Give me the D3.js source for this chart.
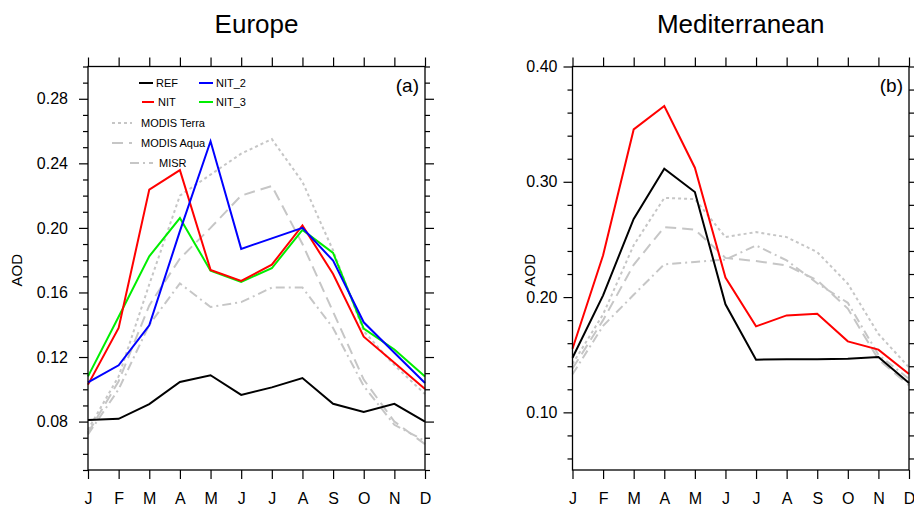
<!DOCTYPE html>
<html><head><meta charset="utf-8">
<script src="https://cdn.jsdelivr.net/npm/d3@7"></script>
<style>
body{margin:0;background:#fff;}
svg{display:block;font-family:"Liberation Sans",Arial,Helvetica,sans-serif;}
</style></head>
<body><svg id="c" width="914" height="506"></svg>
<script>
const months = ["J","F","M","A","M","J","J","A","S","O","N","D"];

// Europe (a)
const eurREF   = [0.081,0.0817,0.0908,0.1045,0.1087,0.0965,0.1012,0.107,0.091,0.0859,0.091,0.080];
const eurNIT   = [0.1029,0.138,0.2237,0.2358,0.174,0.1672,0.1772,0.2015,0.1714,0.1326,0.1164,0.1002];
const eurNIT2  = [0.1043,0.1149,0.1396,0.198,0.2537,0.187,0.1935,0.200,0.1797,0.1415,0.1226,0.1039];
const eurNIT3  = [0.108,0.145,0.1824,0.2061,0.1735,0.1666,0.175,0.1988,0.1845,0.1376,0.1247,0.108];
const eurTerra = [0.075,0.108,0.165,0.220,0.233,0.246,0.255,0.2285,0.186,0.136,0.115,0.097];
const eurAqua  = [0.073,0.105,0.152,0.181,0.200,0.220,0.226,0.190,0.148,0.106,0.080,0.066];
const eurMISR  = [0.072,0.100,0.140,0.1656,0.151,0.154,0.163,0.163,0.138,0.102,0.078,0.068];

// Mediterranean (b)
const medREF   = [0.1474,0.2015,0.2678,0.3114,0.2911,0.1937,0.1457,0.146,0.146,0.1464,0.148,0.1254];
const medNIT   = [0.1552,0.2362,0.3454,0.3657,0.3122,0.2170,0.1746,0.1841,0.1856,0.1616,0.1544,0.1333];
const medTerra = [0.142,0.185,0.245,0.2860,0.2850,0.252,0.2564,0.252,0.239,0.2116,0.168,0.139];
const medAqua  = [0.138,0.180,0.228,0.2607,0.2585,0.2340,0.2312,0.2275,0.2145,0.1900,0.146,0.1234];
const medMISR  = [0.133,0.175,0.202,0.2284,0.2305,0.2325,0.2448,0.2318,0.212,0.1950,0.150,0.129];

const eurTicks = [0.08,0.12,0.16,0.20,0.24,0.28];
const medTicks = [0.10,0.20,0.30,0.40];

const GRAY = "#c6c6c6";
const styles = {
  REF:{color:"#000",dash:null},
  NIT:{color:"#ff0000",dash:null},
  NIT_2:{color:"#0000ff",dash:null},
  NIT_3:{color:"#00ee00",dash:null},
  "MODIS Terra":{color:GRAY,dash:"3,3"},
  "MODIS Aqua":{color:GRAY,dash:"11,6"},
  "MISR":{color:GRAY,dash:"9,4,2,4"}
};

const svg = d3.select("#c");

function panel(opt){
  const g = svg.append("g");
  const x = d3.scalePoint().domain(d3.range(12)).range([opt.x0,opt.x1]);
  const y = d3.scaleLinear().domain(opt.ydom).range([opt.y1,opt.y0]);
  const line = d3.line().x((d,i)=>x(i)).y(d=>y(d));
  opt.series.forEach(s=>{
    const st = styles[s.name];
    g.append("path").datum(s.values).attr("d",line)
      .attr("fill","none").attr("stroke",st.color).attr("stroke-width",2)
      .attr("stroke-dasharray",st.dash).attr("stroke-linejoin","miter");
  });
  g.append("rect").attr("x",opt.x0).attr("y",opt.y0).attr("width",opt.x1-opt.x0).attr("height",opt.y1-opt.y0)
   .attr("fill","none").attr("stroke","#000").attr("stroke-width",1.3);
  const minor = d3.range(Math.round(opt.ydom[0]/opt.minorStep), Math.round(opt.ydom[1]/opt.minorStep)+1).map(k=>+(k*opt.minorStep).toFixed(4));
  const minorOnly = minor.filter(v=>!opt.yticks.some(t=>Math.abs(t-v)<1e-6));
  const axL = d3.axisLeft(y).tickValues(opt.yticks).tickSize(9).tickPadding(6).tickFormat(d3.format(".2f"));
  const axLm = d3.axisLeft(y).tickValues(minorOnly).tickSize(5).tickFormat("");
  const axR = d3.axisRight(y).tickValues(opt.yticks).tickSize(9).tickFormat("");
  const axRm = d3.axisRight(y).tickValues(minorOnly).tickSize(5).tickFormat("");
  const axB = d3.axisBottom(x).tickSize(9).tickPadding(14).tickFormat(i=>months[i]);
  const axT = d3.axisTop(x).tickSize(9).tickFormat("");
  const put=(ax,tx,ty)=>{const a=g.append("g").attr("transform",`translate(${tx},${ty})`).call(ax);
    a.select(".domain").remove(); a.selectAll("line").attr("stroke","#000").attr("stroke-width",1.2); return a;};
  const l = put(axL,opt.x0,0); put(axLm,opt.x0,0); put(axR,opt.x1,0); put(axRm,opt.x1,0);
  const b = put(axB,0,opt.y1); put(axT,0,opt.y0);
  l.selectAll("text").attr("font-size",16).attr("fill","#000").attr("font-family","Liberation Sans, Arial, sans-serif").attr("dx",opt.labDx||0);
  b.selectAll("text").attr("font-size",16).attr("fill","#000").attr("font-family","Liberation Sans, Arial, sans-serif");
  g.append("text").attr("transform",`translate(${opt.ytx},${(opt.y0+opt.y1)/2+2}) rotate(-90)`)
   .attr("text-anchor","middle").attr("font-size",15).text("AOD");
  g.append("text").attr("x",(opt.x0+opt.x1)/2).attr("y",33).attr("text-anchor","middle")
   .attr("font-size",26).text(opt.title);
  g.append("text").attr("x",opt.x1-6).attr("y",92).attr("text-anchor","end").attr("font-size",19).text(opt.tag);
  return {g,x,y};
}

const P1 = panel({x0:88,x1:425,y0:66.5,y1:470,ydom:[0.05,0.30],yticks:eurTicks,minorStep:0.01,
  title:"Europe",tag:"(a)",ytx:22,labDx:-5,
  series:[{name:"MODIS Terra",values:eurTerra},{name:"MODIS Aqua",values:eurAqua},{name:"MISR",values:eurMISR},
          {name:"REF",values:eurREF},{name:"NIT_3",values:eurNIT3},{name:"NIT",values:eurNIT},{name:"NIT_2",values:eurNIT2}]});

const P2 = panel({x0:572.5,x1:909,y0:66.5,y1:470,ydom:[0.05,0.40],yticks:medTicks,minorStep:0.02,
  title:"Mediterranean",tag:"(b)",ytx:535,labDx:0,
  series:[{name:"MODIS Terra",values:medTerra},{name:"MODIS Aqua",values:medAqua},{name:"MISR",values:medMISR},
          {name:"REF",values:medREF},{name:"NIT",values:medNIT}]});

const legend = [
  {name:"REF",x1:139,x2:153,tx:156,y:83},
  {name:"NIT_2",x1:199,x2:213,tx:216,y:83},
  {name:"NIT",x1:142,x2:154,tx:158,y:102},
  {name:"NIT_3",x1:199,x2:213,tx:216,y:102},
  {name:"MODIS Terra",x1:112,x2:132,tx:141,y:123},
  {name:"MODIS Aqua",x1:112,x2:132,tx:141,y:143},
  {name:"MISR",x1:130,x2:153,tx:159,y:163}
];
const lg = svg.append("g");
legend.forEach(d=>{
  const st = styles[d.name];
  lg.append("line").attr("x1",d.x1).attr("x2",d.x2).attr("y1",d.y).attr("y2",d.y)
    .attr("stroke",st.color).attr("stroke-width",2).attr("stroke-dasharray",st.dash);
  lg.append("text").attr("x",d.tx).attr("y",d.y+4).attr("font-size",11).text(d.name);
});
</script></body></html>
